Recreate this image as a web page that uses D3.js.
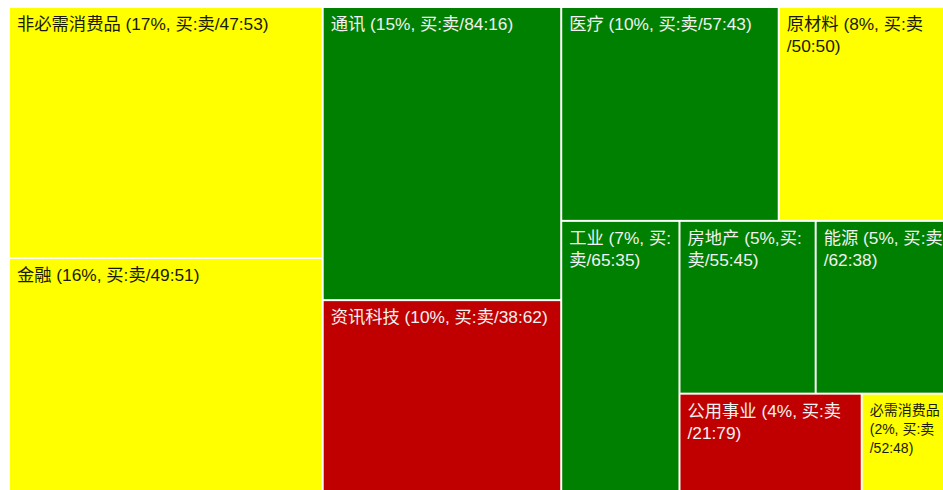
<!DOCTYPE html>
<html>
<head>
<meta charset="utf-8">
<script src="https://cdn.jsdelivr.net/npm/d3@7"></script>
<style>
  html, body { margin: 0; padding: 0; background: #fff; }
  svg { display: block; }
</style>
</head>
<body>
<div id="container"></div>
<script>
// sectors, their share of the map, buy ratio and label lines
const sectors = ["非必需消费品", "金融", "通讯", "资讯科技", "医疗", "原材料",
                 "工业", "房地产", "能源", "公用事业", "必需消费品"];
const groups = ["A", "A", "B", "B", "C/C1", "C/C1",
                "C/C2", "C/C2/R/R1", "C/C2/R/R1", "C/C2/R/R2", "C/C2/R/R2"];
const weights = [17.4, 16.15, 15.45, 10.06, 10.28, 7.81, 7.06, 5.2, 4.9, 3.92, 1.77];
const buyRatio = [47, 49, 84, 38, 57, 50, 65, 55, 62, 21, 52];
const labelLines = [
    ["非必需消费品 (17%, 买:卖/47:53)"],
    ["金融 (16%, 买:卖/49:51)"],
    ["通讯 (15%, 买:卖/84:16)"],
    ["资讯科技 (10%, 买:卖/38:62)"],
    ["医疗 (10%, 买:卖/57:43)"],
    ["原材料 (8%, 买:卖", "/50:50)"],
    ["工业 (7%, 买:", "卖/65:35)"],
    ["房地产 (5%,买:", "卖/55:45)"],
    ["能源 (5%, 买:卖", "/62:38)"],
    ["公用事业 (4%, 买:卖", "/21:79)"],
    ["必需消费品", "(2%, 买:卖", "/52:48)"]
];

const main = (container) => {
    const W = 943, H = 490;
    const margin = { top: 8, right: 0, bottom: 0, left: 10 };
    const width = W - margin.left - margin.right;
    const height = H - margin.top - margin.bottom;

    const rows = sectors.map((s, i) => ({
        path: `/${groups[i]}/${s}`,
        name: s,
        weight: weights[i],
        buy: buyRatio[i],
        lines: labelLines[i]
    }));

    const root = d3.stratify().path(d => d.path)(rows)
        .sum(d => (d && d.weight) || 0);

    d3.treemap()
        .tile(d3.treemapSliceDice)
        .size([width, height])
        .paddingInner(2)(root);

    const color = d3.scaleThreshold()
        .domain([45, 55])
        .range(["#c00000", "#ffff00", "#008000"]);

    const svg = d3.select(container)
        .append("svg")
        .attr("width", W)
        .attr("height", H)
        .append("g")
        .attr("transform", `translate(${margin.left},${margin.top})`);

    const cell = svg.selectAll("g.cell")
        .data(root.leaves())
        .join("g")
        .attr("class", "cell")
        .attr("transform", d => `translate(${d.x0},${d.y0})`);

    cell.append("rect")
        .attr("width", d => d.x1 - d.x0)
        .attr("height", d => d.y1 - d.y0)
        .attr("fill", d => color(d.data.buy));

    cell.each(function (d) {
        const small = (d.x1 - d.x0) < 100;
        const fs = small ? 14 : 17.3;
        const lh = small ? 19 : 22;
        const txt = d3.select(this).append("text")
            .attr("x", 7)
            .attr("y", small ? 20 : 22)
            .style("font-family", "'Liberation Sans', Arial, 'Noto Sans CJK SC', sans-serif")
            .style("font-size", fs + "px")
            .attr("fill", d.data.buy >= 45 && d.data.buy < 55 ? "#1a1a00" : "#f2f2f2");
        d.data.lines.forEach((line, i) => {
            txt.append("tspan")
                .attr("x", 7)
                .attr("dy", i === 0 ? 0 : lh)
                .text(line);
        });
    });
};

const container = document.getElementById("container");
main(container);
</script>
</body>
</html>
